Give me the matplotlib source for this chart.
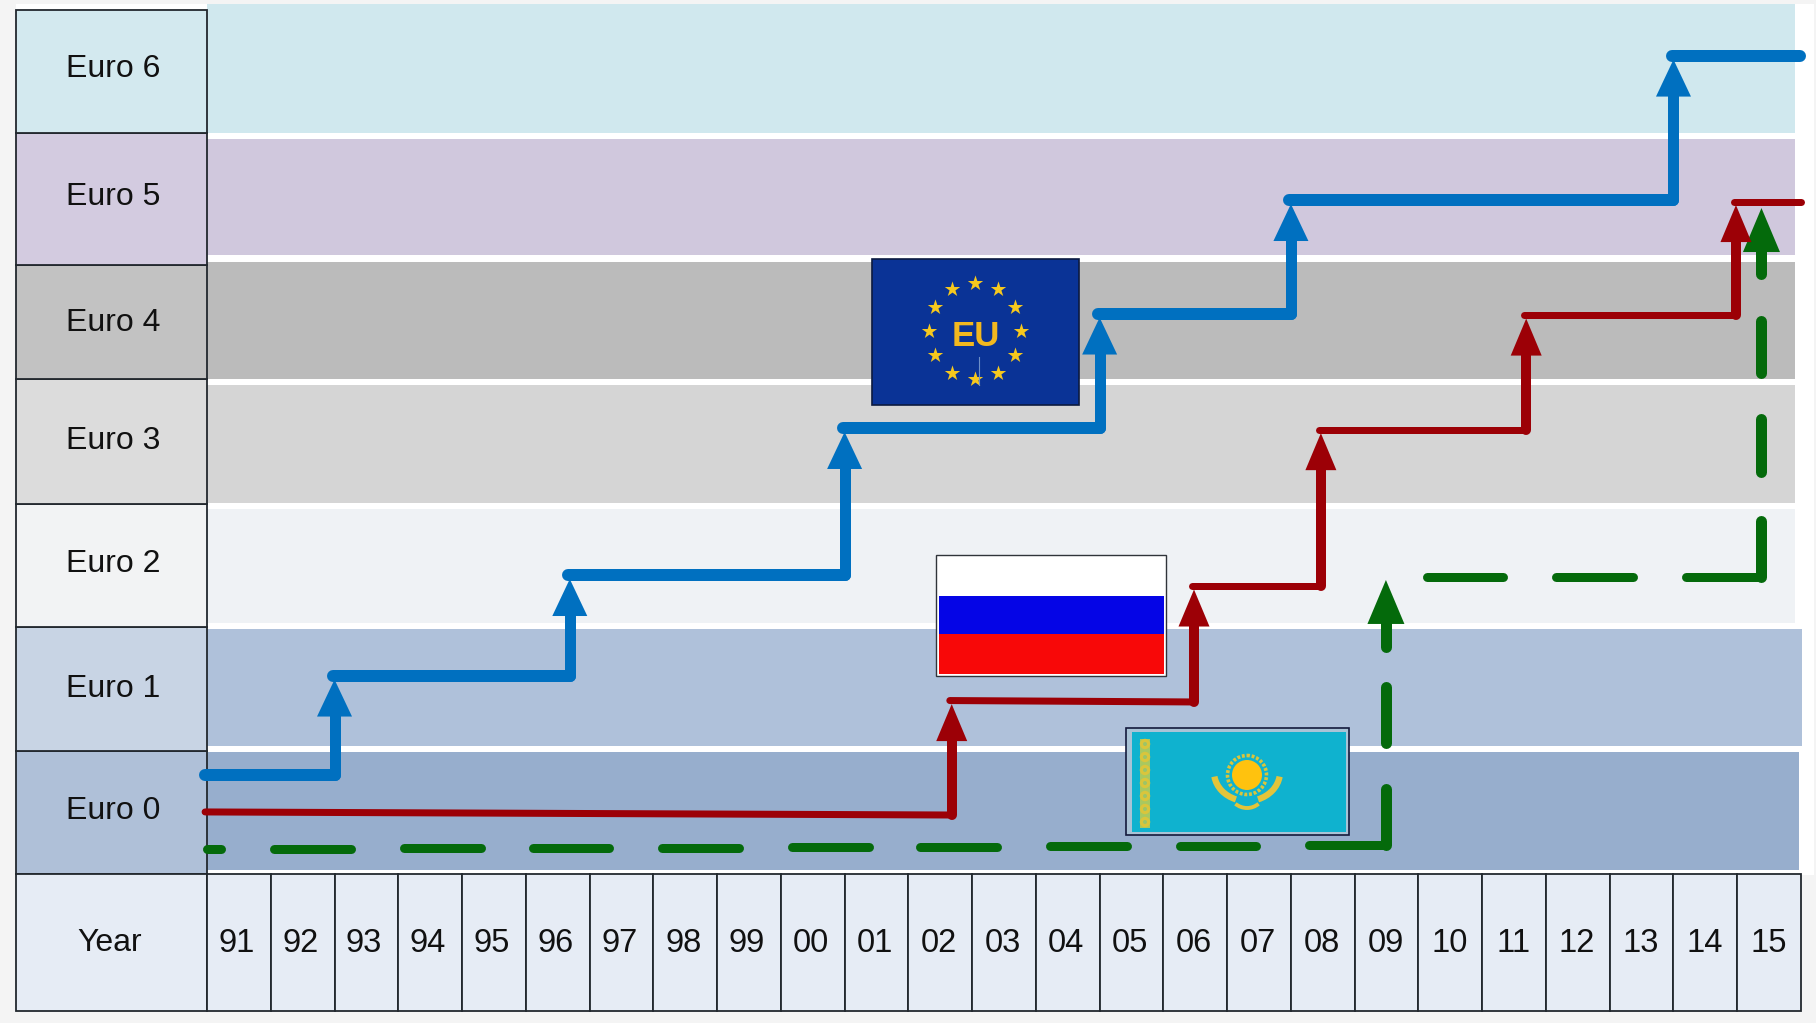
import numpy as np
import matplotlib
matplotlib.use("Agg")
import matplotlib.pyplot as plt
from matplotlib.patches import Rectangle, Arc, Circle

plt.rcParams['font.family'] = ['Liberation Sans', 'DejaVu Sans']

years = ['91','92','93','94','95','96','97','98','99','00','01','02','03','04','05','06','07','08','09','10','11','12','13','14','15']
euro_labels = ['Euro 0','Euro 1','Euro 2','Euro 3','Euro 4','Euro 5','Euro 6']

band_bottom = [0.0, 1.051, 2.093, 3.11, 4.161, 5.212, 6.246]
band_top = [1.0, 2.042, 3.059, 4.11, 5.153, 6.195, 7.339]
band_right = [24.97, 25.02, 24.9, 24.9, 24.9, 24.9, 24.9]
band_colors = ['#97aecd', '#afc1da', '#eff2f5', '#d5d5d5', '#bbbbbb', '#d0c8dd', '#d0e8ee']
cell_edges = [-0.034, 1.008, 2.059, 3.102, 4.161, 5.127, 6.246, 7.288]
cell_colors = ['#afc0d8', '#c8d4e4', '#f2f3f4', '#dcdcdc', '#c2c2c2', '#d3cbe0', '#d3e9ef']
label_levels = [0.497, 1.536, 2.590, 3.633, 4.633, 5.700, 6.785]

# Blue: Europe
blue_x = [-0.03, 2.0, 5.69, 10.0, 14.0, 17.0, 23.0, 24.98]
blue_level = [0.805, 1.644, 2.496, 3.742, 4.712, 5.674, 6.898]
# Red: Russia (each step: start x, end x, level at start, level at end)
red_x = [-0.03, 11.68, 15.48, 17.47, 20.69, 23.98, 25.0]
red_start = [0.492, 1.436, 2.407, 3.732, 4.703, 5.665]
red_end = [0.466, 1.424, 2.407, 3.732, 4.703, 5.665]
# Green: Kazakhstan, dashes as drawn
green_dash_x0 = [0.0, 1.056, 3.09, 5.12, 7.14, 9.17, 11.19, 13.22, 15.26, 17.29, 19.13, 21.16, 23.19]
green_dash_x1 = [0.225, 2.26, 4.29, 6.31, 8.34, 10.38, 12.39, 14.43, 16.46, 18.49, 20.33, 22.36, 24.38]
green_dash_y = [0.178, 0.181, 0.184, 0.187, 0.19, 0.194, 0.197, 0.2, 0.206, 0.212, 2.483, 2.483, 2.483]
green_v1_x = 18.49
green_v1_y0 = [0.212, 1.08, 1.89]
green_v1_y1 = [0.69, 1.55, 2.15]
green_v2_x = 24.38
green_v2_y0 = [2.483, 3.37, 4.21, 5.05]
green_v2_y1 = [2.96, 3.82, 4.65, 5.28]
green_tips = [(18.49, 2.458), (24.38, 5.61)]

BLUE, RED, GREEN = '#0070c0', '#9c0006', '#046a0b'
PX_X, PX_Y = 63.76, 118.0
W, H = 1816, 1023

fig = plt.figure(figsize=(W / 100, H / 100), dpi=100, facecolor='#f4f4f4')
ax = fig.add_axes([0, 0, 1, 1])
ax.set_xlim(-207 / PX_X, (W - 207) / PX_X)
ax.set_ylim((870 - H) / PX_Y, 870 / PX_Y)
ax.axis('off')

ax.add_patch(Rectangle((-2.996, -0.04), 28.2, 7.38, fc='white', ec='none', zorder=0))
for b, t, r, c in zip(band_bottom, band_top, band_right, band_colors):
    ax.add_patch(Rectangle((0, b), r, t - b, fc=c, ec='none', zorder=1))

LINE = '#22282e'
for i, lab in enumerate(euro_labels):
    ax.add_patch(Rectangle((-2.996, cell_edges[i]), 2.996, cell_edges[i + 1] - cell_edges[i],
                           fc=cell_colors[i], ec=LINE, lw=1.3, zorder=2))
    ax.text(-1.466, label_levels[i], lab, ha='center', va='center', fontsize=23, color='#111111', zorder=3)

year_bottom, year_top = -1.195, -0.034
ax.add_patch(Rectangle((-2.996, year_bottom), 2.996, year_top - year_bottom, fc='#e6ecf5', ec=LINE, lw=1.3, zorder=2))
ax.text(-1.52, -0.62, 'Year', ha='center', va='center', fontsize=23, color='#111111', zorder=3)
for i, y in enumerate(years):
    ax.add_patch(Rectangle((i, year_bottom), 1, year_top - year_bottom, fc='#e6ecf5', ec=LINE, lw=1.3, zorder=2))
    ax.text(i + 0.46 + i * 0.0013, -0.62, y, ha='center', va='center', fontsize=23.5, color='#111111', zorder=3)


def head(x, tip, color, half_px=17.5, h_px=37, z=6):
    ax.fill([x - half_px / PX_X, x + half_px / PX_X, x], [tip - h_px / PX_Y, tip - h_px / PX_Y, tip],
            color=color, lw=0, zorder=z)


def seg(xs, ys, color, px, z=5):
    ax.plot(xs, ys, color=color, lw=px * 0.72, solid_capstyle='round', zorder=z)


# green
for x0, x1, y in zip(green_dash_x0, green_dash_x1, green_dash_y):
    seg([x0, x1], [y, y], GREEN, 9)
for y0, y1 in zip(green_v1_y0, green_v1_y1):
    seg([green_v1_x, green_v1_x], [y0, y1], GREEN, 11)
for y0, y1 in zip(green_v2_y0, green_v2_y1):
    seg([green_v2_x, green_v2_x], [y0, y1], GREEN, 11)
for x, tip in green_tips:
    head(x, tip, GREEN, half_px=18.5, h_px=44)

# red
for i in range(len(red_start)):
    left = red_x[i] - (0.03 if i else 0)
    seg([left, red_x[i + 1]], [red_start[i], red_end[i]], RED, 7, z=7)
    if i < len(red_start) - 1:
        tip = red_start[i + 1] - 0.03
        seg([red_x[i + 1], red_x[i + 1]], [red_end[i], tip - 0.3], RED, 10, z=7)
        head(red_x[i + 1], tip, RED, half_px=15.5, h_px=37, z=7)

# blue
for i in range(len(blue_level)):
    left = blue_x[i] - (0.03 if i else 0)
    seg([left, blue_x[i + 1]], [blue_level[i]] * 2, BLUE, 12, z=8)
    if i < len(blue_level) - 1:
        tip = blue_level[i + 1] - 0.03
        seg([blue_x[i + 1], blue_x[i + 1]], [blue_level[i], tip - 0.3], BLUE, 11, z=8)
        head(blue_x[i + 1], tip, BLUE, z=8)

# flags: decorative overlay in picture coordinates
ov = fig.add_axes([0, 0, 1, 1], facecolor='none')
ov.set_xlim(0, W)
ov.set_ylim(H, 0)
ov.axis('off')

# EU
ov.add_patch(Rectangle((872, 259), 207, 146, fc='#0a3396', ec='#0c1a40', lw=1.2))
ang = np.deg2rad(np.arange(0, 360, 30))
ov.scatter(975 + 46 * np.cos(ang), 331 + 48 * np.sin(ang), marker='*', s=135, color='#f6c81e', lw=0)
ov.plot([978.5, 978.5], [357, 385], color='#6d8fc8', lw=0.8)
ov.text(976, 336, 'EU', ha='center', va='center', fontsize=25, fontweight='bold', color='#f2b81f')

# Russia
ov.add_patch(Rectangle((936, 555), 230, 121, fc='white', ec='#30343a', lw=1.0))
ov.add_patch(Rectangle((939, 596), 225, 38, fc='#0505e6', ec='none'))
ov.add_patch(Rectangle((939, 634), 225, 40, fc='#f80808', ec='none'))

# Kazakhstan
ov.add_patch(Rectangle((1126, 728), 223, 107, fc='#a9c3d6', ec='#141a3c', lw=1.2))
ov.add_patch(Rectangle((1132, 732), 214, 100, fc='#0fb2cf', ec='none'))
ov.add_patch(Rectangle((1140, 739), 10, 89, fc='#a8c860', ec='none'))
for yy in np.arange(744, 828, 13):
    ov.add_patch(Circle((1145, yy), 5.2, fc='#d9c53c', ec='none'))
    ov.add_patch(Circle((1145, yy), 2, fc='#9cc468', ec='none'))
ov.add_patch(Circle((1247, 775), 15, fc='#ffc20e', ec='none'))
ov.add_patch(Circle((1247, 775), 19.5, fc='none', ec='#d9c53c', lw=2.6, ls=(0, (0.8, 0.5))))
ov.add_patch(Arc((1247, 772), 66, 58, theta1=8, theta2=68, color='#e3c43a', lw=4.5))
ov.add_patch(Arc((1247, 772), 66, 58, theta1=112, theta2=172, color='#e3c43a', lw=4.5))
ov.add_patch(Arc((1247, 790), 36, 36, theta1=50, theta2=130, color='#e3c43a', lw=2.8))

fig.savefig('out.png', dpi=100, facecolor=fig.get_facecolor())
